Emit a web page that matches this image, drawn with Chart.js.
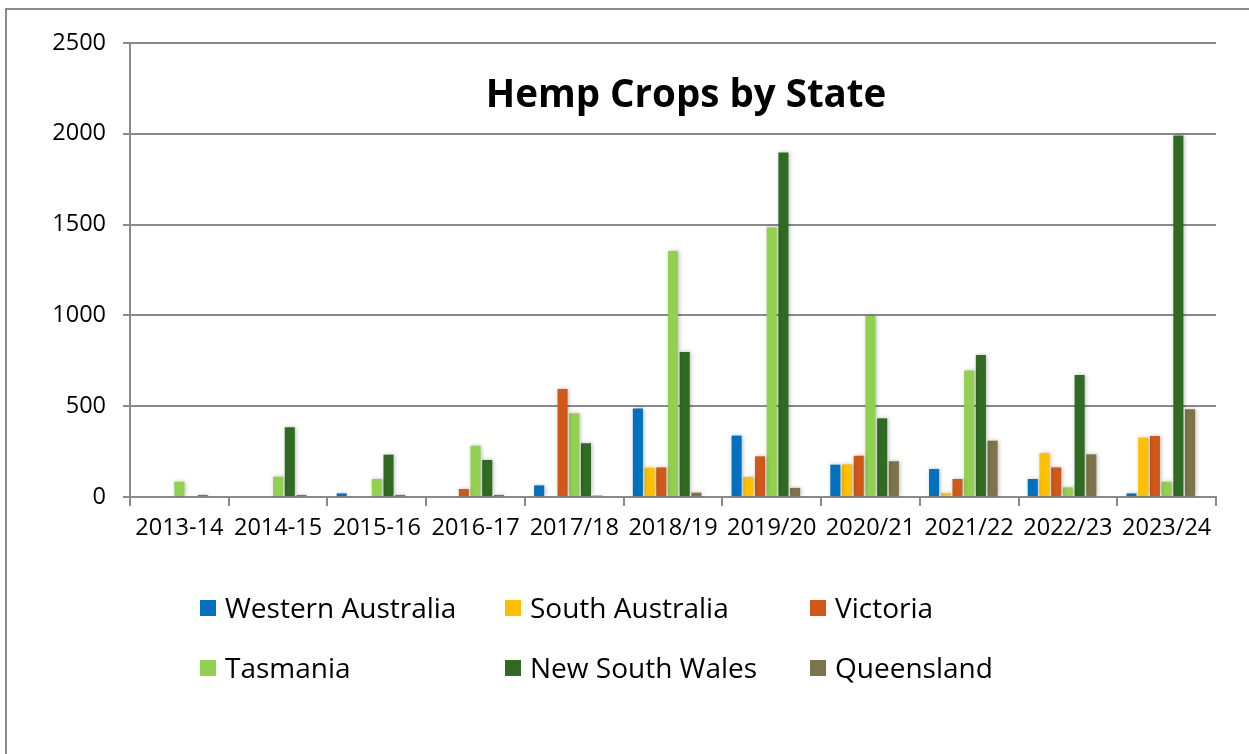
<!DOCTYPE html>
<html>
<head>
<meta charset="utf-8">
<script src="https://cdn.jsdelivr.net/npm/chart.js@4/dist/chart.umd.min.js"></script>
<style>
  html, body { margin: 0; padding: 0; background: #fff; width: 1249px; height: 754px; overflow: hidden; }
  #frame { position: absolute; left: 5px; top: 8px; width: 1300px; height: 800px; border: 2px solid #8a8a8a; box-sizing: border-box; }
  #c { position: absolute; left: 0; top: 0; }
</style>
</head>
<body>
<div id="frame"></div>
<canvas id="c" width="1249" height="754"></canvas>
<script>
const categories = ["2013-14","2014-15","2015-16","2016-17","2017/18","2018/19","2019/20","2020/21","2021/22","2022/23","2023/24"];
const westernAustralia = [0, 0, 20, 0, 64, 488, 338, 178, 154, 99, 20];
const southAustralia   = [0, 0, 0, 0, 0, 161, 110, 180, 22, 242, 327];
const victoria         = [0, 0, 0, 44, 595, 163, 224, 227, 99, 163, 336];
const tasmania         = [84, 112, 99, 282, 461, 1355, 1486, 997, 696, 53, 84];
const newSouthWales    = [0, 384, 233, 204, 296, 798, 1897, 433, 782, 672, 1991];
const queensland       = [12, 12, 12, 12, 8, 24, 50, 197, 310, 235, 483];
const emptySeries      = [null, null, null, null, null, null, null, null, null, null, null];
const seriesNames = ["Western Australia","South Australia","Victoria","Tasmania","New South Wales","Queensland"];
const seriesColors = ["#0070C0","#FFC000","#D0591A","#92D050","#2F6B22","#7E744A"];
const yTicks = [0, 500, 1000, 1500, 2000, 2500];
const chartTitle = "Hemp Crops by State";

const FONT = '"Open Sans", Lato, sans-serif';
const seriesValues = [westernAustralia, southAustralia, victoria, tasmania, newSouthWales, queensland];
const datasets = seriesValues.map((vals, i) => ({
  label: seriesNames[i],
  data: vals,
  backgroundColor: seriesColors[i],
  borderWidth: 0,
  categoryPercentage: 0.83,
  barPercentage: 0.86
}));
datasets.push({ label: "", data: emptySeries, backgroundColor: "rgba(0,0,0,0)", categoryPercentage: 0.83, barPercentage: 0.86, isSpacer: true });

const shadowPlugin = {
  id: 'barShadow',
  beforeDatasetsDraw(chart) {
    const ctx = chart.ctx;
    ctx.save();
    ctx.shadowColor = 'rgba(0,0,0,0.28)';
    ctx.shadowBlur = 4;
    ctx.shadowOffsetX = 1;
    ctx.shadowOffsetY = 0;
  },
  afterDatasetsDraw(chart) { chart.ctx.restore(); }
};

const titleLegendPlugin = {
  id: 'titleLegend',
  afterDraw(chart) {
    const ctx = chart.ctx;
    ctx.save();
    ctx.fillStyle = '#000';
    ctx.font = 'bold 38.5px ' + FONT;
    ctx.textAlign = 'center';
    ctx.textBaseline = 'middle';
    ctx.fillText(chartTitle, 686, 96);

    const colX = [200, 505, 810];
    const rowY = [608, 668];
    ctx.font = '28px ' + FONT;
    ctx.textAlign = 'left';
    chart.data.datasets.forEach((ds, i) => {
      if (ds.isSpacer) return;
      const x = colX[i % 3], y = rowY[Math.floor(i / 3)];
      ctx.fillStyle = ds.backgroundColor;
      ctx.fillRect(x, y - 8, 16, 16);
      ctx.fillStyle = '#000';
      ctx.fillText(ds.label, x + 25, y + 2);
    });
    ctx.restore();
  }
};

new Chart(document.getElementById('c'), {
  type: 'bar',
  data: { labels: categories, datasets },
  options: {
    responsive: false,
    animation: false,
    devicePixelRatio: 1,
    layout: { padding: { top: 43, right: 33, bottom: 197, left: 0 } },
    plugins: { legend: { display: false }, title: { display: false }, tooltip: { enabled: false } },
    scales: {
      x: {
        grid: { display: true, drawOnChartArea: false, drawTicks: true, tickLength: 9, offset: true, color: '#8a8a8a', lineWidth: 2 },
        border: { display: true, color: '#8a8a8a', width: 2 },
        ticks: { color: '#000', font: { family: FONT, size: 23.5 }, padding: 8, maxRotation: 0, autoSkip: false },
        afterFit(scale) { scale.height = 60; }
      },
      y: {
        min: 0, max: 2500,
        afterBuildTicks(scale) { scale.ticks = yTicks.map(v => ({ value: v })); },
        grid: { color: '#8a8a8a', lineWidth: 2, drawTicks: true, tickLength: 7 },
        border: { display: true, color: '#8a8a8a', width: 2 },
        ticks: { color: '#000', font: { family: FONT, size: 23.5 }, padding: 17, callback: (v) => String(v) },
        afterFit(scale) { scale.width = 130; }
      }
    }
  },
  plugins: [shadowPlugin, titleLegendPlugin]
});
</script>
</body>
</html>
